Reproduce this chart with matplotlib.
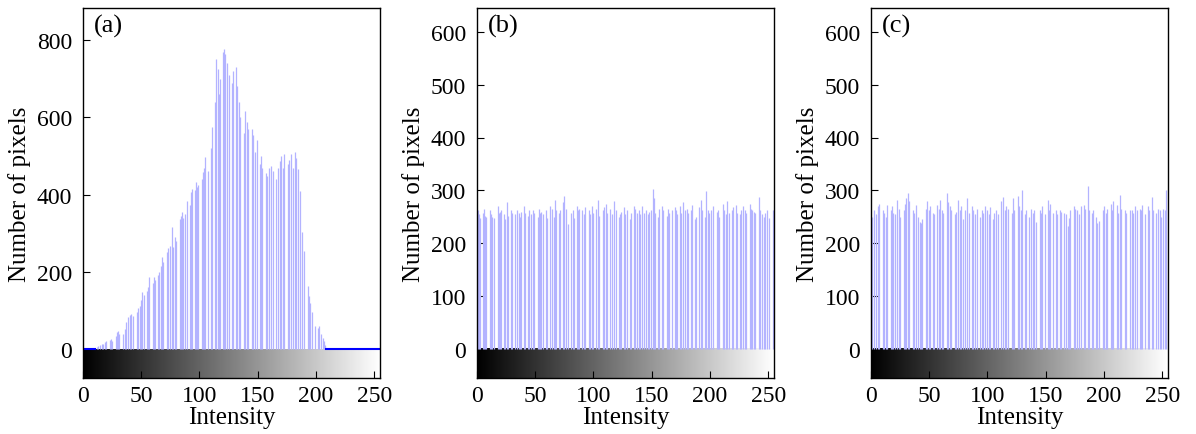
import matplotlib.pyplot as plt
import numpy as np

# histogram counts per intensity level (0..255)
hist_a = [
    0, 0, 0, 0, 0, 0, 0, 0, 0, 0, 3, 0, 6, 8, 0, 10,
    12, 14, 0, 18, 20, 0, 0, 24, 26, 22, 0, 0, 34, 44, 47, 40,
    0, 0, 38, 0, 52, 70, 0, 82, 88, 90, 0, 86, 0, 0, 96, 105,
    0, 112, 128, 147, 140, 0, 0, 150, 160, 186, 0, 0, 170, 187, 180, 0,
    192, 200, 0, 215, 238, 225, 0, 0, 250, 262, 0, 268, 316, 265, 0, 290,
    280, 0, 0, 336, 345, 354, 340, 0, 350, 383, 0, 0, 372, 406, 415, 0,
    412, 432, 420, 425, 0, 0, 440, 458, 470, 497, 0, 462, 0, 0, 520, 575,
    0, 639, 751, 0, 724, 660, 700, 0, 770, 777, 765, 0, 740, 710, 0, 0,
    690, 720, 0, 730, 680, 0, 640, 600, 0, 0, 560, 616, 0, 588, 570, 0,
    0, 570, 555, 0, 510, 540, 0, 0, 480, 500, 470, 0, 0, 455, 448, 0,
    470, 474, 0, 460, 0, 0, 440, 470, 0, 488, 500, 0, 470, 505, 0, 0,
    480, 490, 0, 505, 470, 0, 510, 495, 0, 466, 410, 0, 303, 0, 253, 0,
    0, 164, 137, 120, 0, 96, 0, 60, 0, 0, 55, 60, 40, 0, 28, 20,
    10, 0, 0, 0, 0, 0, 0, 0, 0, 0, 0, 0, 0, 0, 0, 0,
    0, 0, 0, 0, 0, 0, 0, 0, 0, 0, 0, 0, 0, 0, 0, 0,
    0, 0, 0, 0, 0, 0, 0, 0, 0, 0, 0, 0, 0, 0, 0, 0,
]

hist_b = [
    30, 262, 255, 248, 0, 258, 265, 252, 250, 0, 0, 262, 255, 250, 0, 248,
    0, 0, 270, 258, 260, 262, 0, 255, 245, 0, 278, 252, 0, 262, 258, 0,
    0, 255, 262, 0, 258, 250, 260, 0, 270, 258, 0, 0, 252, 262, 255, 0,
    262, 258, 0, 0, 250, 265, 258, 260, 0, 255, 0, 262, 248, 0, 0, 270,
    265, 0, 250, 282, 262, 0, 258, 262, 0, 0, 278, 290, 265, 0, 236, 0,
    0, 258, 262, 248, 0, 0, 270, 262, 265, 0, 262, 0, 255, 268, 0, 0,
    262, 255, 0, 270, 258, 0, 265, 0, 282, 252, 0, 0, 262, 268, 0, 275,
    258, 0, 265, 0, 255, 0, 280, 262, 0, 0, 250, 255, 260, 0, 268, 255,
    0, 262, 0, 245, 258, 0, 0, 270, 265, 258, 0, 262, 255, 0, 270, 258,
    0, 262, 0, 255, 260, 262, 0, 303, 285, 258, 0, 250, 265, 0, 0, 270,
    262, 0, 0, 252, 265, 258, 0, 262, 0, 0, 268, 262, 255, 0, 270, 258,
    0, 278, 0, 262, 265, 258, 0, 0, 262, 272, 0, 245, 250, 0, 0, 268,
    282, 262, 0, 0, 250, 298, 262, 258, 0, 262, 0, 270, 0, 0, 260, 262,
    250, 0, 0, 275, 262, 0, 255, 280, 258, 0, 0, 262, 268, 0, 272, 258,
    0, 0, 255, 262, 270, 0, 262, 258, 0, 0, 275, 265, 262, 0, 260, 258,
    0, 0, 288, 262, 0, 255, 250, 258, 0, 262, 0, 248, 0, 0, 262, 262,
]

hist_c = [
    245, 250, 0, 262, 255, 0, 270, 275, 0, 0, 262, 258, 0, 250, 272, 0,
    0, 262, 270, 258, 0, 255, 282, 0, 265, 250, 0, 0, 262, 275, 285, 0,
    295, 280, 0, 0, 262, 258, 0, 272, 250, 0, 240, 238, 245, 0, 0, 265,
    280, 0, 262, 270, 0, 258, 255, 0, 0, 272, 265, 282, 0, 262, 258, 0,
    0, 295, 278, 0, 270, 262, 0, 0, 255, 260, 0, 282, 262, 270, 0, 245,
    0, 262, 285, 0, 258, 0, 0, 270, 262, 255, 0, 265, 0, 0, 250, 262,
    258, 0, 270, 0, 262, 255, 268, 0, 0, 245, 258, 262, 0, 255, 0, 0,
    280, 288, 0, 262, 270, 0, 265, 0, 0, 258, 285, 262, 0, 0, 290, 270,
    0, 262, 300, 0, 255, 262, 0, 0, 250, 265, 0, 258, 262, 0, 240, 0,
    0, 262, 258, 270, 0, 255, 0, 0, 282, 262, 275, 0, 258, 0, 0, 262,
    255, 0, 262, 260, 0, 0, 258, 255, 0, 232, 248, 262, 0, 0, 270, 265,
    0, 262, 0, 255, 270, 0, 0, 272, 265, 0, 308, 262, 0, 0, 258, 262,
    0, 250, 238, 0, 242, 0, 0, 262, 270, 0, 258, 265, 0, 0, 275, 262,
    280, 0, 0, 272, 258, 0, 292, 265, 0, 0, 262, 258, 0, 0, 262, 0,
    262, 258, 0, 270, 262, 0, 0, 265, 262, 272, 0, 255, 0, 0, 270, 262,
    0, 288, 262, 0, 0, 258, 265, 0, 262, 250, 0, 265, 262, 300, 0, 0,
]

panel_labels = ['(a)', '(b)', '(c)']
y_tops = [883, 645, 645]
y_bottoms = [-75, -55, -55]
y_ticks = [[0, 200, 400, 600, 800], [0, 100, 200, 300, 400, 500, 600],
           [0, 100, 200, 300, 400, 500, 600]]
x_ticks = [0, 50, 100, 150, 200, 250]

plt.rcParams['font.family'] = ['Liberation Serif', 'DejaVu Serif']

fig = plt.figure(figsize=(11.96, 4.35), dpi=100)
lefts = [83, 477, 871]
gradient = np.arange(256).reshape(1, -1)

for i, counts in enumerate([hist_a, hist_b, hist_c]):
    ax = fig.add_axes([lefts[i] / 1196, 56 / 435, 297 / 1196, 370 / 435])
    levels = np.arange(len(counts))
    counts = np.array(counts)

    # stems
    ax.vlines(levels, 0, counts, color=(0.7, 0.7, 1.0), linewidth=0.9)

    # zero-count runs at the ends show as a blue baseline
    nz = np.nonzero(counts)[0]
    if nz[0] > 3:
        ax.plot([0, nz[0]], [0, 0], color='#0000ff', linewidth=1.5)
    if nz[-1] < 252:
        ax.plot([nz[-1] + 1, 255], [0, 0], color='#0000ff', linewidth=1.5)

    # gray-level bar under the histogram
    ax.imshow(gradient, cmap='gray', aspect='auto',
              extent=(0, 255, y_bottoms[i], 0), zorder=0)

    ax.set_xlim(0, 255)
    ax.set_ylim(y_bottoms[i], y_tops[i])
    ax.set_xticks(x_ticks)
    ax.set_yticks(y_ticks[i])
    ax.tick_params(direction='in', length=5, width=0.8, labelsize=17)
    ax.tick_params(axis='y', pad=8)
    ax.tick_params(axis='x', pad=5)
    for s in ax.spines.values():
        s.set_linewidth(1.0)
    ax.set_xlabel('Intensity', fontsize=18, labelpad=0)
    ax.set_ylabel('Number of pixels', fontsize=18, labelpad=4)
    ax.text(0.035, 0.985, panel_labels[i], transform=ax.transAxes,
            fontsize=19, va='top', ha='left')

fig.savefig('out.png', dpi=100)
